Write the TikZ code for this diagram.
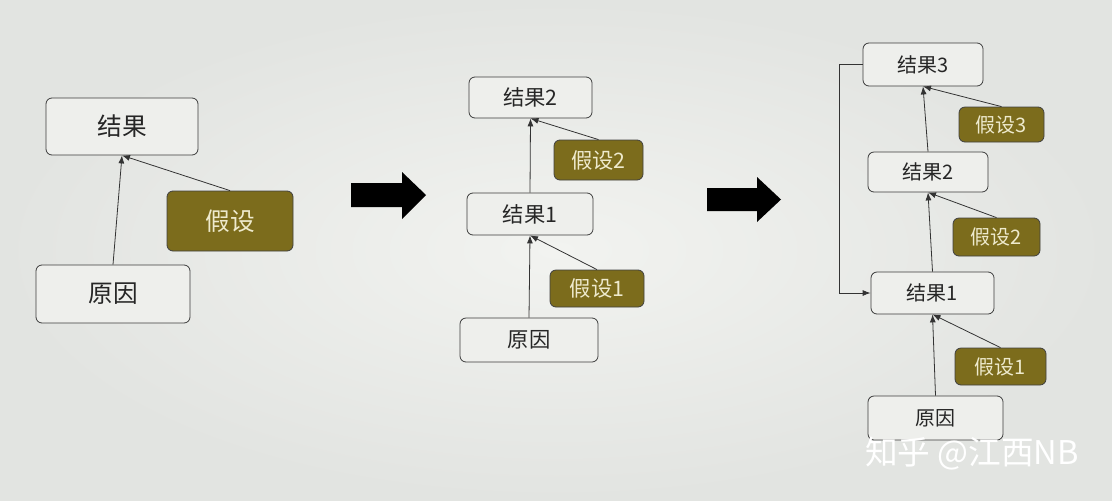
\documentclass[tikz,border=0pt]{standalone}
\usepackage{fontspec}
\newfontfamily\cjk{Noto Sans CJK SC}
\usetikzlibrary{arrows.meta}
\definecolor{bgc}{RGB}{226,228,225}
\definecolor{bgin}{RGB}{242,243,240}
\definecolor{olive}{RGB}{124,108,28}
\definecolor{olivetext}{RGB}{238,234,205}
\definecolor{edgec}{RGB}{60,60,60}
\definecolor{boxfill}{RGB}{238,239,236}
\newcommand\panelsize{\fontsize{16pt}{18pt}\selectfont}
\tikzset{
  res/.style={draw=edgec, line width=0.6pt, rounded corners=4.5pt, fill=boxfill, font=\cjk\panelsize, text=black!85, inner sep=0pt},
  hyp/.style={draw=black!75, line width=0.6pt, rounded corners=4.5pt, fill=olive, font=\cjk\panelsize, text=olivetext, inner sep=0pt},
  link/.style={draw=black!80, line width=0.6pt, -{Latex[length=6pt,width=4.5pt]}},
  bigarrow/.style={fill=black, draw=none}
}
\begin{document}
\begin{tikzpicture}[x=0.75pt,y=-0.75pt]
\useasboundingbox (0,0) rectangle (1112,500);
\shade[inner color=bgin, outer color=bgc] (0,0) rectangle (1112,500);

% ---------- left panel ----------
\renewcommand\panelsize{\fontsize{18.5pt}{20pt}\selectfont}
\node[res, minimum width=114pt, minimum height=42.75pt] (LR) at (122,126.5) {结果};
\node[hyp, minimum width=94.5pt, minimum height=45pt] (LH) at (230,221) {假设};
\node[res, minimum width=115.5pt, minimum height=43.5pt] (LC) at (113,294) {原因};
\draw[link] (LC.north) -- (LR.south);
\draw[link] (LH.north) -- (LR.south);

% big arrow 1
\fill[bigarrow] (351,183) -- (402,183) -- (402,172) -- (426,195) -- (402,219) -- (402,207) -- (351,207) -- cycle;

% ---------- middle panel ----------
\renewcommand\panelsize{\fontsize{16pt}{18pt}\selectfont}
\node[res, minimum width=92.25pt, minimum height=30.75pt] (MR2) at (530.5,97.5) {结果2};
\node[hyp, minimum width=66.75pt, minimum height=30pt] (MH2) at (598.5,160) {假设2};
\node[res, minimum width=94.5pt, minimum height=31.5pt] (MR1) at (530,214) {结果1};
\node[hyp, minimum width=70.5pt, minimum height=27.75pt] (MH1) at (597,288.5) {假设1};
\node[res, minimum width=103.5pt, minimum height=33pt] (MC) at (529,340) {原因};
\draw[link] (MR1.north) -- (MR2.south);
\draw[link] (MH2.north) -- (MR2.south);
\draw[link] (MC.north) -- (MR1.south);
\draw[link] (MH1.north) -- (MR1.south);

% big arrow 2
\fill[bigarrow] (707,188) -- (757,188) -- (757,177) -- (781,199.5) -- (757,222) -- (757,211) -- (707,211) -- cycle;

% ---------- right panel ----------
\renewcommand\panelsize{\fontsize{15pt}{17pt}\selectfont}
\node[res, minimum width=90pt, minimum height=32.25pt] (RR3) at (923,64.5) {结果3};
\node[hyp, minimum width=63.75pt, minimum height=26.25pt] (RH3) at (1001.5,124.5) {假设3};
\node[res, minimum width=90pt, minimum height=30pt] (RR2) at (928,172) {结果2};
\node[hyp, minimum width=65.25pt, minimum height=28.5pt] (RH2) at (996.5,237) {假设2};
\node[res, minimum width=92.25pt, minimum height=31.5pt] (RR1) at (932.5,293) {结果1};
\node[hyp, minimum width=68.25pt, minimum height=27.75pt] (RH1) at (1000.5,366.5) {假设1};
\node[res, minimum width=101.25pt, minimum height=33pt] (RC) at (935.5,418) {原因};
\draw[link] (RR2.north) -- (RR3.south);
\draw[link] (RH3.north) -- (RR3.south);
\draw[link] (RR1.north) -- (RR2.south);
\draw[link] (RH2.north) -- (RR2.south);
\draw[link] (RC.north) -- (RR1.south);
\draw[link] (RH1.north) -- (RR1.south);
\draw[link] (RR3.west) -- ++(-23,0) |- (RR1.west);

% watermark
\node[font=\cjk\fontsize{24.5pt}{26pt}\selectfont, text=white, inner sep=0pt] (WM) at (972,454) {知乎 @江西NB};
\end{tikzpicture}
\end{document}
